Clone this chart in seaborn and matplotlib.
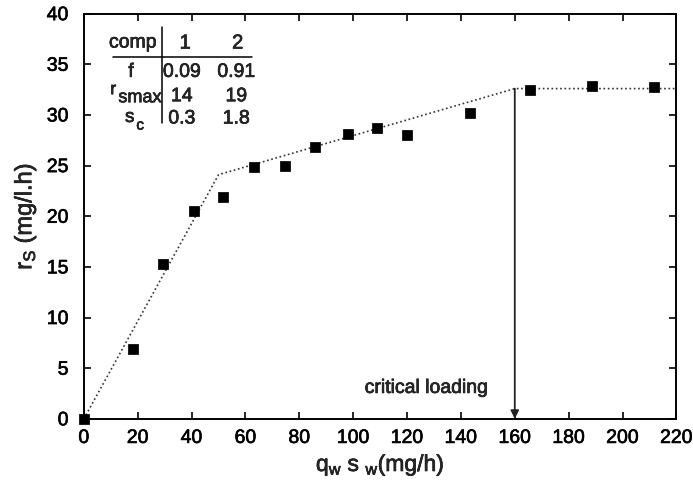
import matplotlib
matplotlib.use("Agg")
import matplotlib.pyplot as plt
import matplotlib.patheffects as pe
import seaborn as sns
import pandas as pd

# Measured loading vs. substrate removal rate
loading = [0, 18.2, 29.4, 41.0, 51.7, 63.3, 74.8, 86.0, 97.9, 109.0, 120.0, 143.3, 165.7, 188.8, 211.8]
removal = [0, 6.9, 15.3, 20.5, 21.9, 24.9, 25.0, 26.8, 28.1, 28.7, 28.0, 30.2, 32.5, 32.9, 32.8]

# Piecewise-linear model fit
fit_x = [0, 50, 160, 220]
fit_y = [0, 24.1, 32.6, 32.6]

critical_loading = 160
critical_rate = 32.6

# Component table
table_cols = ["1", "2"]
table_vals = [["0.09", "0.91"], ["14", "19"], ["0.3", "1.8"]]

sns.set_theme(style="white")
plt.rcParams["font.family"] = ["Liberation Sans", "DejaVu Sans"]
plt.rcParams["mathtext.default"] = "regular"

heavy = [pe.withStroke(linewidth=0.45, foreground="black")]

fig = plt.figure(figsize=(6.93, 4.87), dpi=100)
ax = fig.add_axes([0.121, 0.140, 0.855, 0.832])

pts = pd.DataFrame({"x": loading, "y": removal})
fit = pd.DataFrame({"x": fit_x, "y": fit_y})

sns.lineplot(data=fit, x="x", y="y", ax=ax, color="#333333", lw=1.2,
             linestyle=(0, (1, 1.6)), zorder=2)
sns.scatterplot(data=pts, x="x", y="y", ax=ax, marker="s", s=45,
                color="black", edgecolor="black", zorder=3, clip_on=False)

ax.annotate("", xy=(critical_loading, 0), xytext=(critical_loading, critical_rate),
            arrowprops=dict(arrowstyle="-|>", color="#222222", lw=1.3,
                            mutation_scale=12, shrinkA=0, shrinkB=0))


def put(x, y, s, size=14, **kw):
    kw.setdefault("ha", "center")
    kw.setdefault("va", "center")
    return ax.text(x, y, s, fontsize=size, path_effects=heavy, **kw)


put(150.5, 3.0, "critical loading", size=14, ha="right")

# Inset table of component parameters
c1, c2 = 36.4, 56.6
put(18.2, 37.1, "comp", size=14)
put(c1 + 1.2, 37.1, table_cols[0], size=14.5)
put(c2 + 0.5, 37.1, table_cols[1], size=14.5)
row_y = [34.2, 31.8, 29.6]
for vals, yy in zip(table_vals, row_y):
    put(c1, yy, vals[0])
    put(c2, yy, vals[1])
put(17.5, 34.2, "f")
put(10.9, 32.5, "r", size=12.5)
put(20.8, 31.7, "smax", size=13)
put(17.0, 29.75, "s", size=13.5)
put(20.9, 28.95, "c", size=11)
ax.plot([10.8, 62.5], [35.7, 35.7], color="black", lw=1.1)
ax.plot([29.0, 29.0], [29.2, 38.7], color="black", lw=1.1)

ax.set_xlim(0, 220)
ax.set_ylim(0, 40)
ax.set_xticks(range(0, 221, 20))
ax.set_yticks(range(0, 41, 5))
xl = ax.set_xlabel("q$_w$ s $_w$(mg/h)", fontsize=16.5, labelpad=3)
yl = ax.set_ylabel("r$_S$ (mg/l.h)", fontsize=17, labelpad=6)
xl.set_path_effects(heavy)
yl.set_path_effects(heavy)

for sp in ax.spines.values():
    sp.set_visible(True)
    sp.set_color("black")
    sp.set_linewidth(1.4)
ax.tick_params(direction="in", length=5, width=1.2, top=True, right=True,
               bottom=True, left=True, labelsize=14, colors="black")
ax.tick_params(axis="y", pad=11)
ax.tick_params(axis="x", pad=8)
for lab in ax.get_xticklabels() + ax.get_yticklabels():
    lab.set_path_effects(heavy)

fig.savefig("out.png", dpi=100)
